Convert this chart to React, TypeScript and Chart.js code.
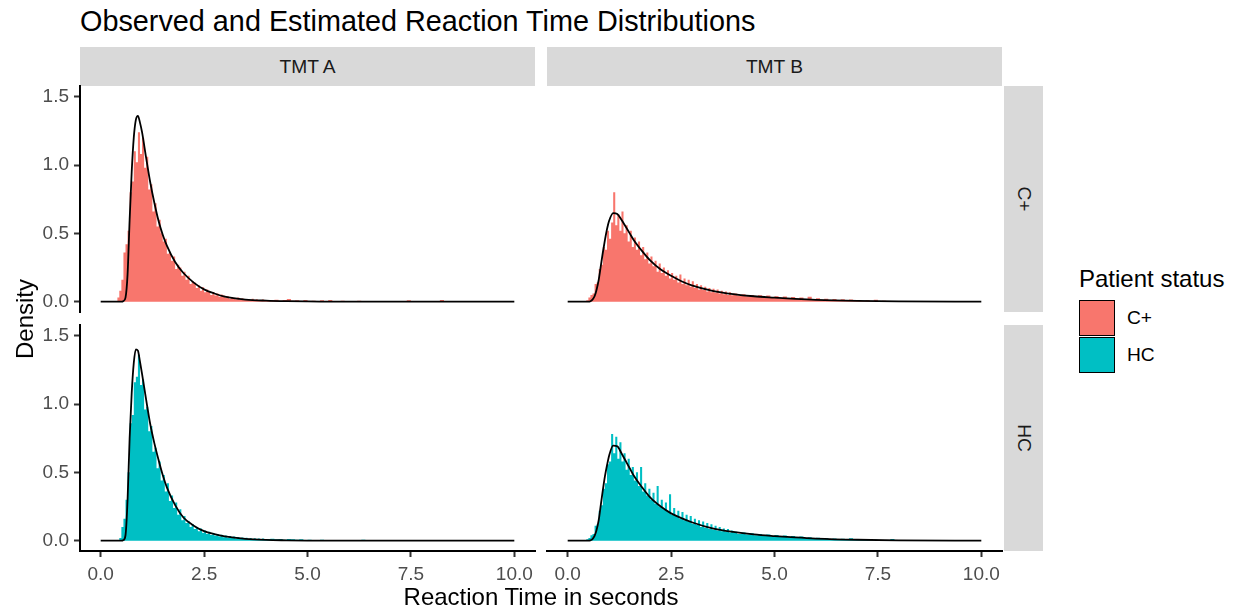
import React, { useEffect, useRef } from "react";
import { Chart, registerables } from "chart.js";

Chart.register(...registerables);

// ---------- data ----------
const FACET_COLS = ["TMT A", "TMT B"];
const FACET_ROWS = ["C+", "HC"];
const LEGEND_TITLE = "Patient status";
const TITLE = "Observed and Estimated Reaction Time Distributions";
const X_TITLE = "Reaction Time in seconds";
const Y_TITLE = "Density";
const X_TICKS = [0, 2.5, 5, 7.5, 10];
const Y_TICKS = [0, 0.5, 1.0, 1.5];
const COLOR_CP = "#F8766D";
const COLOR_HC = "#00BFC4";

// histogram bins: fine bins 0.40-4.00 (width 0.05), coarse tail bins 4.0-10.0 (width 0.1)
const HEAD_START = 0.4;
const HEAD_W = 0.05;
const TAIL_START = 4.0;
const TAIL_W = 0.1;
const HIST_END = 10.0;

const TMTA_CP_HEAD = [0.03, 0.08, 0.16, 0.36, 0.42, 0.52, 0.8, 0.88, 1.1, 1.02, 1.24, 1.08, 1.2, 0.98, 1.06, 0.82, 0.86, 0.66, 0.72, 0.55, 0.6, 0.5, 0.44, 0.46, 0.35, 0.36, 0.3, 0.33, 0.24, 0.27, 0.25, 0.19, 0.22, 0.16, 0.19, 0.13, 0.15, 0.14, 0.1, 0.12, 0.08, 0.105, 0.07, 0.09, 0.075, 0.05, 0.07, 0.045, 0.06, 0.036, 0.052, 0.045, 0.03, 0.04, 0.022, 0.034, 0.028, 0.018, 0.03, 0.015, 0.026, 0.012, 0.02, 0.016, 0.01, 0.022, 0.009, 0.018, 0.012, 0.007, 0.016, 0.006];
const TMTA_CP_TAIL = [0.012, 0.01, 0.014, 0.008, 0.012, 0.02, 0.008, 0.01, 0.006, 0.012, 0.006, 0.008, 0.004, 0.01, 0.006, 0.012, 0.004, 0.006, 0.008, 0.004, 0.006, 0.004, 0.008, 0.004, 0.002, 0.006, 0.004, 0.0, 0.004, 0.004, 0.006, 0.003, 0.002, 0.004, 0.01, 0.003, 0.004, 0.002, 0.0, 0.003, 0.002, 0.004, 0.012, 0.002, 0.004, 0.0, 0.003, 0.002, 0.0, 0.003, 0.0, 0.004, 0.002, 0.0, 0.003, 0.0, 0.002, 0.0, 0.004, 0.0];

const TMTB_CP_HEAD = [0.0, 0.01, 0.03, 0.05, 0.06, 0.13, 0.14, 0.24, 0.27, 0.4, 0.38, 0.52, 0.46, 0.58, 0.8, 0.56, 0.64, 0.52, 0.66, 0.5, 0.56, 0.44, 0.52, 0.4, 0.47, 0.38, 0.44, 0.34, 0.4, 0.31, 0.36, 0.28, 0.33, 0.26, 0.3, 0.22, 0.28, 0.21, 0.25, 0.19, 0.23, 0.17, 0.21, 0.16, 0.19, 0.14, 0.2, 0.13, 0.17, 0.12, 0.16, 0.11, 0.15, 0.1, 0.13, 0.09, 0.12, 0.085, 0.11, 0.075, 0.1, 0.07, 0.095, 0.065, 0.09, 0.06, 0.08, 0.055, 0.075, 0.05, 0.07, 0.048];
const TMTB_CP_TAIL = [0.06, 0.045, 0.055, 0.04, 0.05, 0.036, 0.048, 0.032, 0.045, 0.03, 0.04, 0.026, 0.038, 0.024, 0.034, 0.02, 0.03, 0.018, 0.036, 0.02, 0.026, 0.014, 0.022, 0.012, 0.02, 0.01, 0.018, 0.008, 0.016, 0.006, 0.012, 0.006, 0.01, 0.004, 0.014, 0.004, 0.008, 0.002, 0.006, 0.004, 0.002, 0.006, 0.002, 0.004, 0.0, 0.003, 0.006, 0.0, 0.002, 0.0, 0.0, 0.002, 0.0, 0.0, 0.0, 0.0, 0.0, 0.003, 0.0, 0.0];

const TMTA_HC_HEAD = [0.0, 0.02, 0.1, 0.16, 0.3, 0.5, 0.86, 0.92, 1.16, 1.2, 1.36, 1.14, 1.18, 0.96, 0.98, 0.8, 0.84, 0.65, 0.68, 0.53, 0.58, 0.44, 0.48, 0.36, 0.42, 0.29, 0.33, 0.24, 0.28, 0.19, 0.23, 0.15, 0.18, 0.13, 0.145, 0.1, 0.12, 0.085, 0.1, 0.07, 0.09, 0.058, 0.075, 0.05, 0.066, 0.042, 0.056, 0.036, 0.05, 0.03, 0.044, 0.026, 0.038, 0.022, 0.034, 0.02, 0.03, 0.017, 0.027, 0.015, 0.024, 0.013, 0.022, 0.012, 0.02, 0.011, 0.018, 0.01, 0.017, 0.009, 0.016, 0.009];
const TMTA_HC_TAIL = [0.012, 0.014, 0.01, 0.012, 0.008, 0.012, 0.01, 0.008, 0.01, 0.006, 0.008, 0.006, 0.005, 0.008, 0.004, 0.006, 0.004, 0.006, 0.003, 0.005, 0.004, 0.006, 0.003, 0.008, 0.004, 0.003, 0.002, 0.004, 0.003, 0.002, 0.003, 0.004, 0.002, 0.006, 0.003, 0.002, 0.002, 0.004, 0.002, 0.0, 0.003, 0.002, 0.0, 0.002, 0.0, 0.004, 0.002, 0.0, 0.002, 0.0, 0.002, 0.0, 0.003, 0.0, 0.0, 0.002, 0.0, 0.0, 0.0, 0.0];

const TMTB_HC_HEAD = [0.0, 0.01, 0.02, 0.04, 0.05, 0.11, 0.12, 0.22, 0.26, 0.38, 0.42, 0.56, 0.58, 0.78, 0.64, 0.76, 0.6, 0.72, 0.58, 0.64, 0.52, 0.6, 0.48, 0.54, 0.44, 0.5, 0.4, 0.54, 0.36, 0.42, 0.33, 0.38, 0.3, 0.35, 0.27, 0.4, 0.25, 0.3, 0.23, 0.28, 0.21, 0.34, 0.19, 0.24, 0.18, 0.22, 0.16, 0.21, 0.15, 0.19, 0.14, 0.18, 0.125, 0.16, 0.115, 0.15, 0.1, 0.14, 0.095, 0.13, 0.085, 0.12, 0.08, 0.11, 0.075, 0.1, 0.07, 0.09, 0.065, 0.085, 0.06, 0.075];
const TMTB_HC_TAIL = [0.065, 0.05, 0.06, 0.045, 0.055, 0.04, 0.05, 0.036, 0.046, 0.032, 0.042, 0.028, 0.038, 0.026, 0.034, 0.022, 0.03, 0.02, 0.026, 0.016, 0.022, 0.014, 0.02, 0.012, 0.016, 0.01, 0.014, 0.008, 0.018, 0.006, 0.01, 0.006, 0.008, 0.004, 0.007, 0.003, 0.006, 0.004, 0.012, 0.002, 0.004, 0.002, 0.003, 0.001, 0.002, 0.0, 0.002, 0.0, 0.002, 0.0, 0.001, 0.0, 0.0, 0.001, 0.0, 0.0, 0.0, 0.0, 0.0, 0.0];

// estimated density curves
const CURVE_X = [0, 0.5, 0.55, 0.6, 0.65, 0.7, 0.75, 0.8, 0.85, 0.9, 0.95, 1.0, 1.1, 1.2, 1.3, 1.4, 1.5, 1.6, 1.8, 2.0, 2.25, 2.5, 2.75, 3.0, 3.5, 4.0, 4.5, 5.0, 5.5, 6.0, 7.0, 8.0, 10.0];
const TMTA_CP_CURVE = [0, 0, 0.005, 0.03, 0.2, 0.6, 0.95, 1.2, 1.33, 1.36, 1.31, 1.24, 1.05, 0.87, 0.72, 0.59, 0.49, 0.41, 0.29, 0.21, 0.14, 0.09, 0.06, 0.037, 0.016, 0.008, 0.004, 0.002, 0.001, 0, 0, 0, 0];
const TMTB_CP_CURVE = [0, 0, 0.003, 0.015, 0.04, 0.09, 0.16, 0.26, 0.36, 0.45, 0.53, 0.59, 0.648, 0.642, 0.6, 0.55, 0.5, 0.45, 0.37, 0.3, 0.235, 0.19, 0.15, 0.12, 0.08, 0.056, 0.04, 0.03, 0.021, 0.014, 0.006, 0.002, 0];
const TMTA_HC_CURVE = [0, 0, 0.005, 0.04, 0.3, 0.75, 1.08, 1.3, 1.4, 1.39, 1.31, 1.22, 1.03, 0.85, 0.71, 0.59, 0.48, 0.39, 0.26, 0.17, 0.11, 0.07, 0.048, 0.032, 0.014, 0.006, 0.003, 0.001, 0, 0, 0, 0, 0];
const TMTB_HC_CURVE = [0, 0, 0.003, 0.012, 0.035, 0.08, 0.15, 0.26, 0.37, 0.47, 0.55, 0.62, 0.695, 0.69, 0.64, 0.585, 0.53, 0.475, 0.39, 0.315, 0.25, 0.2, 0.165, 0.135, 0.09, 0.064, 0.046, 0.034, 0.024, 0.016, 0.007, 0.003, 0];

// ---------- layout ----------
const FONT = "'Liberation Sans', Arial, Helvetica, sans-serif";
const X_MIN = -0.5;
const X_MAX = 10.5;
const Y_MIN = -0.0752;
const Y_MAX = 1.578;
const COL_X = [80, 547];
const ROW_Y = [86, 325];
const PANEL_W = 455;
const PANEL_H = 226;
const YW = 60; // y-axis width
const XH = 46; // x-axis height
const M = 20; // spare canvas margin
const TICK_FONT = 19;

type Pt = { x: number; y: number };

function histPoints(head: number[], tail: number[]): Pt[] {
  const pts: Pt[] = [];
  head.forEach((v, i) => pts.push({ x: +(HEAD_START + i * HEAD_W).toFixed(3), y: v }));
  tail.forEach((v, i) => pts.push({ x: +(TAIL_START + i * TAIL_W).toFixed(3), y: v }));
  pts.push({ x: HIST_END, y: 0 });
  return pts;
}

function curvePoints(ys: number[]): Pt[] {
  return CURVE_X.map((x, i) => ({ x, y: ys[i] }));
}

const PANELS = [
  { col: 0, row: 0, head: TMTA_CP_HEAD, tail: TMTA_CP_TAIL, curve: TMTA_CP_CURVE, color: COLOR_CP },
  { col: 1, row: 0, head: TMTB_CP_HEAD, tail: TMTB_CP_TAIL, curve: TMTB_CP_CURVE, color: COLOR_CP },
  { col: 0, row: 1, head: TMTA_HC_HEAD, tail: TMTA_HC_TAIL, curve: TMTA_HC_CURVE, color: COLOR_HC },
  { col: 1, row: 1, head: TMTB_HC_HEAD, tail: TMTB_HC_TAIL, curve: TMTB_HC_CURVE, color: COLOR_HC },
];

function Panel(props: { col: number; row: number; head: number[]; tail: number[]; curve: number[]; color: string }) {
  const ref = useRef<HTMLCanvasElement | null>(null);
  const showY = props.col === 0;
  const showX = props.row === 1;
  const leftExtra = showY ? YW : M;
  const bottomExtra = showX ? XH : M;
  const width = leftExtra + PANEL_W + M;
  const height = M + PANEL_H + bottomExtra;
  const left = COL_X[props.col] - leftExtra;
  const top = ROW_Y[props.row] - M;

  useEffect(() => {
    const canvas = ref.current;
    if (!canvas) return;
    const chart = new Chart(canvas, {
      type: "line",
      data: {
        datasets: [
          {
            label: "density",
            data: curvePoints(props.curve),
            borderColor: "#000000",
            borderWidth: 1.8,
            pointRadius: 0,
            fill: false,
            cubicInterpolationMode: "monotone",
          },
          {
            label: "histogram",
            data: histPoints(props.head, props.tail),
            stepped: true,
            borderWidth: 0,
            borderColor: "rgba(0,0,0,0)",
            backgroundColor: props.color,
            pointRadius: 0,
            fill: "origin",
          },
        ],
      },
      options: {
        animation: false,
        responsive: false,
        maintainAspectRatio: false,
        devicePixelRatio: 1,
        events: [],
        layout: {
          padding: { left: showY ? 0 : M, right: M, top: M, bottom: showX ? 0 : M },
        },
        plugins: { legend: { display: false }, tooltip: { enabled: false } },
        scales: {
          x: {
            type: "linear",
            min: X_MIN,
            max: X_MAX,
            display: showX,
            afterBuildTicks: (scale: any) => {
              scale.ticks = X_TICKS.map((v) => ({ value: v }));
            },
            afterFit: (scale: any) => {
              scale.height = showX ? XH : 0;
            },
            grid: { drawOnChartArea: false, drawTicks: true, tickLength: 6, tickColor: "#333333", tickWidth: 2 },
            border: { display: true, color: "#000000", width: 2 },
            ticks: {
              autoSkip: false,
              maxRotation: 0,
              padding: 6,
              color: "#4D4D4D",
              font: { family: FONT, size: TICK_FONT },
              callback: (v: any) => Number(v).toFixed(1),
            },
          },
          y: {
            type: "linear",
            min: Y_MIN,
            max: Y_MAX,
            display: showY,
            afterBuildTicks: (scale: any) => {
              scale.ticks = Y_TICKS.map((v) => ({ value: v }));
            },
            afterFit: (scale: any) => {
              scale.width = showY ? YW : 0;
            },
            grid: { drawOnChartArea: false, drawTicks: true, tickLength: 6, tickColor: "#333333", tickWidth: 2 },
            border: { display: true, color: "#000000", width: 2 },
            ticks: {
              padding: 5,
              color: "#4D4D4D",
              font: { family: FONT, size: TICK_FONT },
              callback: (v: any) => Number(v).toFixed(1),
            },
          },
        },
      } as any,
    });
    return () => chart.destroy();
  }, []);

  return (
    <canvas
      ref={ref}
      width={width}
      height={height}
      style={{ position: "absolute", left, top, width, height }}
    />
  );
}

function Text(props: { x: number; y: number; text: string; size: number; align?: "left" | "center"; rotate?: number; color?: string }) {
  const { x, y, text, size, align = "left", rotate = 0, color = "#000000" } = props;
  const tx = align === "center" ? "-50%" : "0";
  return (
    <div
      style={{
        position: "absolute",
        left: x,
        top: y,
        transform: `translate(${tx}, -50%) rotate(${rotate}deg)`,
        transformOrigin: align === "center" ? "50% 50%" : "0 50%",
        fontFamily: FONT,
        fontSize: size,
        lineHeight: `${size}px`,
        color,
        whiteSpace: "nowrap",
      }}
    >
      {text}
    </div>
  );
}

export default function App() {
  useEffect(() => {
    document.body.style.margin = "0";
    document.body.style.background = "#FFFFFF";
  }, []);

  return (
    <div style={{ position: "absolute", left: 0, top: 0, width: 1233, height: 611, background: "#FFFFFF", overflow: "hidden" }}>
      <Text x={80} y={21} text={TITLE} size={28.8} />

      {/* column strips */}
      {FACET_COLS.map((lab, i) => (
        <div
          key={lab}
          style={{
            position: "absolute",
            left: COL_X[i],
            top: 47,
            width: PANEL_W,
            height: ROW_Y[0] - 47,
            background: "#D9D9D9",
          }}
        >
          <Text x={PANEL_W / 2} y={(ROW_Y[0] - 47) / 2} text={lab} size={19.2} align="center" color="#1A1A1A" />
        </div>
      ))}

      {/* row strips */}
      {FACET_ROWS.map((lab, i) => (
        <div
          key={lab}
          style={{
            position: "absolute",
            left: COL_X[1] + PANEL_W + 2,
            top: ROW_Y[i],
            width: 39,
            height: PANEL_H,
            background: "#D9D9D9",
          }}
        >
          <Text x={19.5} y={PANEL_H / 2} text={lab} size={19.2} align="center" rotate={90} color="#1A1A1A" />
        </div>
      ))}

      {PANELS.map((p, i) => (
        <Panel key={i} {...p} />
      ))}

      <Text x={541} y={597} text={X_TITLE} size={24} align="center" />
      <Text x={25} y={319} text={Y_TITLE} size={24} align="center" rotate={-90} />

      {/* legend */}
      <Text x={1079} y={279} text={LEGEND_TITLE} size={24} />
      {FACET_ROWS.map((lab, i) => (
        <React.Fragment key={lab}>
          <div
            style={{
              position: "absolute",
              left: 1079,
              top: 300 + i * 37,
              width: 36,
              height: 36,
              boxSizing: "border-box",
              border: "1.5px solid #000000",
              background: i === 0 ? COLOR_CP : COLOR_HC,
            }}
          />
          <Text x={1127} y={318 + i * 37} text={lab} size={19.2} />
        </React.Fragment>
      ))}
    </div>
  );
}
